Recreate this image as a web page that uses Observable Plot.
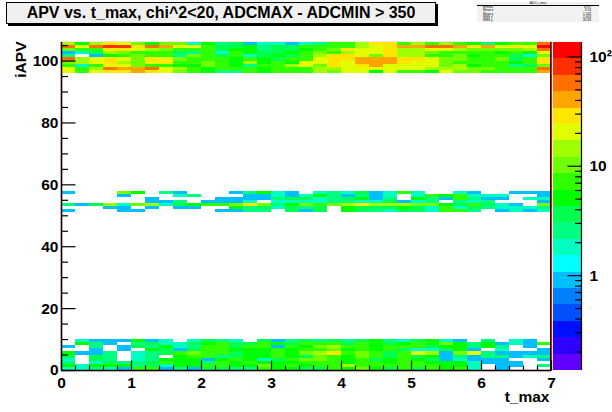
<!DOCTYPE html>
<html>
<head>
<meta charset="utf-8">
<script src="https://cdn.jsdelivr.net/npm/d3@7"></script>
<script src="https://cdn.jsdelivr.net/npm/@observablehq/plot@0.6"></script>
<style>
html,body{margin:0;padding:0;background:#fff;}
#chart{position:relative;width:612px;height:412px;overflow:hidden;font-family:"Liberation Sans",Arial,sans-serif;}
#chart svg{position:absolute;left:0;top:0;background:transparent;}
#title{position:absolute;left:6px;top:2px;width:428px;height:20px;background:#f0f0f0;border:1px solid #000;box-shadow:2px 2px 0 #000;text-align:center;font-weight:bold;font-size:16px;line-height:20px;color:#000;white-space:nowrap;}
#stats{position:absolute;left:477px;top:2px;width:122px;height:20px;background:#f2f2f2;font-size:3.2px;line-height:3.3px;color:#000;}
#stats .h{text-align:center;border-bottom:1px solid #000;height:3.2px;}
#stats .r{display:flex;justify-content:space-between;padding:0 8px 0 6px;}
</style>
</head>
<body>
<div id="chart">
  <div id="title">APV vs. t_max, chi^2&lt;20, ADCMAX - ADCMIN &gt; 350</div>
  <div id="stats"></div>
</div>
<script>
const statLabels = ["Entries","Mean x","Mean y","RMS x","RMS y"];
const statValues = ["8797","3.53","1.543","2.003","45.63"];

const upperRows = [105,104,103,102,101,100,99,98,97,96];
const upperCounts = [
  [15,5,15,30,20,10,5,10,10,2,5,3,4,1,2,2,1,2,3,8,8,15,30,30,8,15,8,15,8,5,3,5,8,7,55],
  [55,20,55,80,80,30,55,40,20,20,7,4,4,5,3,4,4,7,8,8,8,15,20,30,40,40,55,55,40,30,40,20,30,20,100],
  [10,8,7,30,30,20,15,10,8,7,7,4,5,5,3,4,4,5,8,10,30,20,20,30,15,15,20,20,15,10,10,10,10,15,55],
  [1,2,4,15,10,7,7,7,4,3,7,2,7,5,4,4,5,7,10,8,15,20,20,30,15,15,10,8,8,8,8,5,8,5,20],
  [3,0,1,5,7,10,7,7,3,10,8,4,7,2,4,5,4,7,15,30,30,20,10,30,15,15,7,8,10,5,8,8,4,2,10],
  [55,15,20,30,20,10,30,20,10,7,7,7,5,7,5,4,8,8,20,30,30,40,40,40,30,30,20,10,10,8,8,10,4,7,30],
  [10,15,20,30,15,10,20,30,7,7,10,8,5,15,5,8,5,20,20,30,20,40,40,40,30,20,20,10,8,8,8,8,5,7,30],
  [7,2,7,20,20,10,7,7,5,5,10,7,5,3,7,8,15,20,10,30,20,30,40,20,20,20,20,10,15,5,7,7,3,4,10],
  [20,7,15,55,40,40,55,20,15,8,5,7,7,7,5,8,8,8,15,15,20,20,20,20,20,20,15,15,15,10,10,8,7,7,55],
  [20,8,20,30,30,40,30,20,10,7,5,3,3,7,5,7,8,8,15,10,20,20,5,20,8,8,5,20,10,10,8,8,7,7,40]
];
const middleRows = [57,56,55,54,53,52,51];
const middleCounts = [
  [1,0,0,0,10,5,0,3,1,0,0,0,1,3,5,2,1,0,2,3,2,4,1,2,7,2,0,0,2,1,0,0,1,1,1],
  [0,0,0,0,1,0,0,0,2,3,0,0,0,1,1,2,1,2,5,3,1,3,1,2,0,2,7,5,7,2,2,2,0,0,1],
  [0,0,0,0,0,0,1,0,0,0,0,1,1,1,1,3,4,4,2,3,4,5,1,3,0,5,3,1,7,3,1,1,0,2,2],
  [0,0,0,0,0,0,1,1,3,0,1,1,1,2,0,2,2,2,2,3,3,2,2,4,1,2,3,0,3,2,3,0,0,0,1],
  [3,1,4,15,2,10,15,2,4,5,7,7,10,30,10,3,5,10,7,10,15,30,15,15,15,10,10,5,4,7,4,2,1,0,10],
  [0,0,0,1,1,0,1,0,1,1,0,0,5,3,4,2,4,3,4,0,5,4,4,4,5,4,2,7,2,4,3,2,2,2,3],
  [1,0,0,0,1,1,0,0,0,0,0,1,1,3,3,0,4,1,4,0,5,4,3,2,4,4,2,7,7,3,0,1,2,1,2]
];
const lowerRows = [9,8,7,6,5,4,3,2,1,0];
const lowerCounts = [
  [0,2,1,1,1,5,1,2,0,2,4,3,2,0,4,1,3,4,3,4,3,4,5,3,2,4,5,2,1,0,3,0,2,1,0],
  [0,5,3,1,0,3,4,2,2,4,5,7,4,4,7,5,4,7,8,8,4,7,5,4,5,7,5,10,5,3,5,1,2,1,7],
  [1,0,3,0,1,4,3,5,2,3,7,8,4,7,7,1,7,5,10,15,7,8,5,7,8,8,4,5,5,3,5,3,0,1,0],
  [0,0,1,0,1,0,5,4,1,4,7,7,5,5,5,7,5,7,8,10,5,7,5,7,4,2,2,4,5,1,0,2,0,0,1],
  [5,1,1,3,0,2,3,4,8,10,7,8,4,5,5,7,5,10,15,30,7,10,7,4,8,20,15,1,10,20,3,1,1,1,1],
  [4,0,4,3,0,2,3,0,5,7,8,3,4,5,5,8,5,4,10,8,5,10,7,4,8,4,5,1,3,1,3,3,1,2,3],
  [2,0,4,3,0,2,3,5,5,5,1,5,8,5,2,4,8,10,10,8,5,7,4,5,7,5,4,1,2,1,1,1,0,0,1],
  [3,0,2,4,3,3,4,7,5,5,3,7,5,7,5,5,5,7,8,7,5,8,7,5,7,7,5,5,5,2,1,1,1,0,0],
  [5,2,5,5,5,3,4,2,5,5,7,8,5,5,10,5,7,5,8,8,15,7,8,8,7,7,7,5,5,2,0,1,1,0,3],
  [2,2,3,2,1,7,7,1,3,1,4,4,3,3,7,5,5,4,4,7,5,10,5,4,7,4,7,5,7,2,0,1,0,0,0]
];

const palette = ["#6000ff","#3000ff","#0010ff","#0050ff","#0080ff","#00bfff","#00ffff","#00ffc0","#00ff80","#00ff50",
                 "#00ff00","#30ff00","#70ff00","#a0ff00","#e0ff00","#ffe600","#ffa500","#ff7000","#ff3000","#ff0000"];
const xMajor = [0,1,2,3,4,5,6,7];
const yMajor = [0,20,40,60,80,100];
const zMajor = [1,10,100];
const zMinor = [0.2,0.3,0.4,0.5,0.6,0.7,0.8,0.9,2,3,4,5,6,7,8,9,20,30,40,50,60,70,80,90];

const binWidth = 0.2;
const zLogMin = -0.868, zLogStep = 0.15;
const edges = d3.range(palette.length + 1).map(k => 10 ** (zLogMin + k * zLogStep));

const table = [];
[[upperRows, upperCounts], [middleRows, middleCounts], [lowerRows, lowerCounts]].forEach(([rows, counts]) => {
  rows.forEach((row, i) => counts[i].forEach((count, col) => {
    if (count > 0) table.push({col, row, count});
  }));
});

const xMinor = d3.range(36).map(i => i * binWidth).filter(v => !xMajor.some(m => Math.abs(m - v) < 1e-6));
const yMinor = d3.range(0, 106, 5).filter(v => v % 20 !== 0);
const fontStyle = {fontSize: 15.5, fontWeight: "bold", fontFamily: "Liberation Sans, Arial, sans-serif"};

const main = Plot.plot({
  width: 612, height: 412,
  marginLeft: 61, marginRight: 61, marginTop: 42, marginBottom: 42,
  style: {background: "transparent", color: "#000", ...fontStyle, overflow: "visible"},
  x: {domain: [0, 7]},
  y: {domain: [0, 106]},
  color: {type: "threshold", domain: edges.slice(1, -1), range: palette},
  marks: [
    Plot.frame({stroke: "#ff0000", strokeWidth: 1.2}),
    Plot.rect(table, {
      x1: d => d.col * binWidth, x2: d => (d.col + 1) * binWidth,
      y1: "row", y2: d => d.row + 1,
      fill: "count", shapeRendering: "crispEdges"
    }),
    Plot.axisX(xMinor, {anchor: "bottom", tickSize: -4.5, tickFormat: () => "", label: null, strokeWidth: 1.2}),
    Plot.axisX(xMajor, {anchor: "bottom", tickSize: -9.5, tickFormat: () => "", label: null, strokeWidth: 1.2}),
    Plot.axisX(xMajor, {anchor: "bottom", tickSize: 0, tickPadding: 6, label: null, tickFormat: d => String(d), fontWeight: "bold"}),
    Plot.axisY(yMinor, {anchor: "left", tickSize: -7, tickFormat: () => "", label: null, strokeWidth: 1.2}),
    Plot.axisY(yMajor, {anchor: "left", tickSize: -14.5, tickFormat: () => "", label: null, strokeWidth: 1.2}),
    Plot.axisY(yMajor, {anchor: "left", tickSize: 0, tickPadding: 3, label: null, tickFormat: d => String(d), fontWeight: "bold"}),
    Plot.ruleX([0], {stroke: "#000", strokeWidth: 1.5}),
    Plot.ruleY([0], {stroke: "#000", strokeWidth: 1.5}),
    Plot.ruleX([7], {stroke: "#000", strokeWidth: 1, dx: -1}),
    Plot.text(["t_max"], {frameAnchor: "bottom-right", dx: -2, dy: 31, textAnchor: "end", fontWeight: "bold", fontSize: 15.5}),
    Plot.text(["iAPV"], {frameAnchor: "top-left", dx: -47, dy: -1, rotate: -90, textAnchor: "end", fontWeight: "bold", fontSize: 15.5})
  ]
});

const bands = palette.map((color, k) => ({lo: edges[k], hi: edges[k + 1], color}));
const bar = Plot.plot({
  width: 612, height: 412,
  marginLeft: 553, marginRight: 31, marginTop: 42, marginBottom: 42,
  style: {background: "transparent", color: "#000", ...fontStyle, overflow: "visible"},
  x: {domain: [0, 1], axis: null},
  y: {type: "log", domain: [edges[0], edges[edges.length - 1]]},
  marks: [
    Plot.rect(bands, {x1: 0, x2: 1, y1: "lo", y2: "hi", fill: "color", shapeRendering: "crispEdges"}),
    Plot.axisY(zMinor, {anchor: "right", tickSize: -7, tickFormat: () => "", label: null, strokeWidth: 1.2}),
    Plot.axisY(zMajor, {anchor: "right", tickSize: -14.5, tickFormat: () => "", label: null, strokeWidth: 1.2}),
    Plot.axisY(zMajor, {anchor: "right", tickSize: 0, tickPadding: 8, label: null, fontWeight: "bold",
      tickFormat: d => d === 100 ? "10²" : String(d)}),
    Plot.ruleX([1], {stroke: "#000", strokeWidth: 1.2})
  ]
});

const chart = document.getElementById("chart");
chart.prepend(bar);
chart.prepend(main);

const stats = document.getElementById("stats");
const head = document.createElement("div");
head.className = "h";
head.textContent = "ADC-t_max";
stats.append(head);
statLabels.forEach((label, i) => {
  const row = document.createElement("div");
  row.className = "r";
  const a = document.createElement("span"); a.textContent = label;
  const b = document.createElement("span"); b.textContent = statValues[i];
  row.append(a, b);
  stats.append(row);
});
</script>
</body>
</html>
